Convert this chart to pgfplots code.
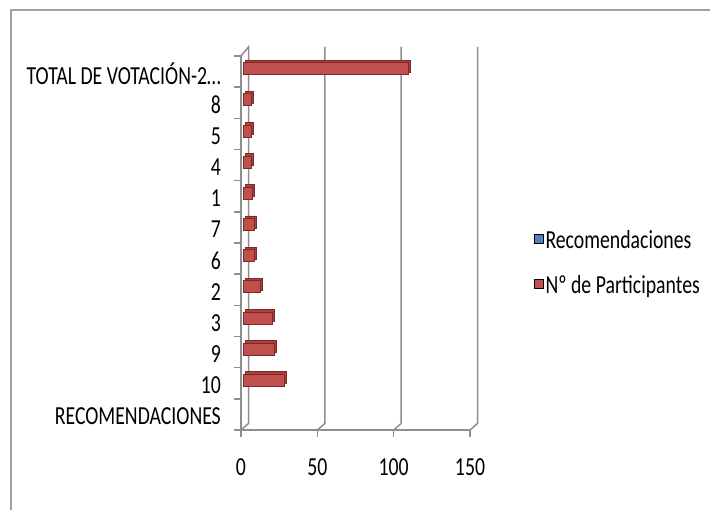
\documentclass[border=0pt]{standalone}
\usepackage{pgfplots}
\pgfplotsset{compat=1.18}
\usepackage{pgfplotstable}
\usepackage{fontspec}
\setmainfont{Carlito}[FakeStretch=0.76]
\newcommand\lblfont{\fontsize{26bp}{30bp}\selectfont}

\definecolor{barred}{HTML}{C0504D}
\definecolor{bardepth}{HTML}{A8413E}
\definecolor{bardark}{HTML}{7E2A28}
\definecolor{barblue}{HTML}{4F81BD}
\definecolor{gridgray}{HTML}{8E8E8E}
\definecolor{framegray}{HTML}{A0A0A0}

% y = category index (0 = RECOMENDACIONES at bottom)
\pgfplotstableread{
y val
1 27
2 20
3 19
4 11
5 7
6 7
7 6
8 5
9 5
10 5
11 108
}\participantes

\begin{document}
\begin{tikzpicture}[x=1bp,y=1bp]
\useasboundingbox (0,0) rectangle (710,510);
\draw[framegray, line width=2.5bp] (11,-2) -- (11,500) -- (712,500);
\begin{axis}[
  at={(241bp,80bp)}, anchor=south west,
  scale only axis, width=229bp, height=374bp,
  xmin=0, xmax=150, ymin=-0.5, ymax=11.5,
  axis lines*=left,
  axis line style={gridgray, line width=1.5bp},
  xtick={0,50,100,150},
  ytick={-0.5,0.5,1.5,2.5,3.5,4.5,5.5,6.5,7.5,8.5,9.5,10.5,11.5},
  yticklabels={RECOMENDACIONES,10,9,3,2,6,7,1,4,5,8,TOTAL DE VOTACIÓN-2\ldots,{}},
  tick align=outside,
  major tick length=7bp,
  tick style={gridgray, line width=1.5bp},
  ticklabel style={font=\lblfont},
  /pgf/number format/assume math mode=true,
  yticklabel style={anchor=east, inner sep=0pt, xshift=-13bp, yshift=13.5bp},
  xticklabel style={anchor=center, inner sep=0pt, yshift=-30bp},
  legend style={at={(1.266,0.54)}, anchor=north west, draw=none, fill=none,
    font=\lblfont, row sep=20bp, column sep=2bp,
    nodes={inner sep=0pt, text height=18bp, text depth=7bp}},
  legend cell align=left,
  legend image code/.code={\fill[#1] (0bp,0bp) rectangle (9bp,9bp);},
  clip=false,
]
% 3D walls and grid (decoration)
\foreach \gx in {50,100,150} {
  \edef\tmp{\noexpand\draw[gridgray, line width=1.5bp]
    (axis cs:\gx,-0.5) -- ([shift={(7.5bp,6.5bp)}]axis cs:\gx,-0.5)
    -- ([shift={(7.5bp,9bp)}]axis cs:\gx,11.5);}
  \tmp
}
\draw[gridgray, line width=1.5bp]
    (axis cs:0,-0.5) -- ([shift={(7.5bp,6.5bp)}]axis cs:0,-0.5)
    -- ([shift={(7.5bp,9bp)}]axis cs:0,11.5) -- (axis cs:0,11.5);

\addlegendimage{fill=barblue}
\addlegendentry{Recomendaciones}
\addlegendimage{fill=barred}
\addlegendentry{Nº de Participantes}

% depth (top and side faces)
\addplot[xbar, bar width=12bp, bar shift=3bp, fill=bardepth, draw=bardark,
  line width=0.6bp, xshift=4.5bp, yshift=2.5bp, forget plot]
  table[x=val, y=y] {\participantes};
% front faces
\addplot[xbar, bar width=12bp, bar shift=3bp, fill=barred, draw=bardark,
  line width=0.6bp, xshift=2.5bp, forget plot]
  table[x=val, y=y] {\participantes};
\end{axis}
\end{tikzpicture}
\end{document}
